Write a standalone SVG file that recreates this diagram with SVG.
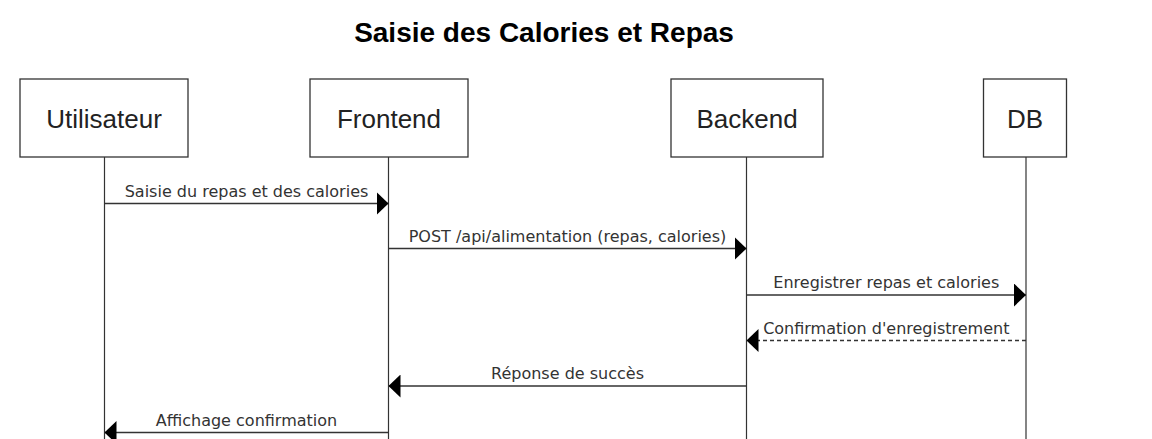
<svg xmlns="http://www.w3.org/2000/svg" width="1152" height="439" viewBox="0 0 1152 439">
  <defs>
    <marker id="arrow" viewBox="0 0 12 23" refX="12" refY="11.5" markerWidth="12" markerHeight="23" markerUnits="userSpaceOnUse" orient="auto">
      <path d="M0,0 L12,11.5 L0,23 Z" fill="#000"/>
    </marker>
    <style>
      .actor rect { fill: #fff; stroke: #333; stroke-width: 1.3; }
      .actor text { font-family: "Liberation Sans", Arial, sans-serif; font-size: 26px; fill: #222; text-anchor: middle; }
      .life { stroke: #333; stroke-width: 1.2; }
      .msg { stroke: #333; stroke-width: 1.5; fill: none; marker-end: url(#arrow); }
      .dashed { stroke-dasharray: 4,3; }
      .label { font-family: "DejaVu Sans", Verdana, sans-serif; font-size: 16px; fill: #333; text-anchor: middle; }
      .title { font-family: "Liberation Sans", Arial, sans-serif; font-size: 28px; font-weight: bold; fill: #000; text-anchor: middle; }
    </style>
  </defs>
  <rect width="1152" height="439" fill="#fff"/>
  <text class="title" x="544" y="42">Saisie des Calories et Repas</text>

  <g id="utilisateur" class="actor">
    <line class="life" x1="104.5" y1="157" x2="104.5" y2="439"/>
    <rect x="20" y="79" width="168" height="78"/>
    <text x="104" y="128">Utilisateur</text>
  </g>
  <g id="frontend" class="actor">
    <line class="life" x1="388.5" y1="157" x2="388.5" y2="439"/>
    <rect x="310" y="79" width="158" height="78"/>
    <text x="389" y="128">Frontend</text>
  </g>
  <g id="backend" class="actor">
    <line class="life" x1="746.5" y1="157" x2="746.5" y2="439"/>
    <rect x="671" y="79" width="152" height="78"/>
    <text x="747" y="128">Backend</text>
  </g>
  <g id="db" class="actor">
    <line class="life" x1="1026" y1="157" x2="1026" y2="439"/>
    <rect x="983.5" y="79" width="83" height="78"/>
    <text x="1025" y="128">DB</text>
  </g>

  <g id="connectors">
    <line class="msg" x1="104.5" y1="203.5" x2="388.5" y2="203.5"/>
    <text class="label" x="246.5" y="196.5">Saisie du repas et des calories</text>

    <line class="msg" x1="388.5" y1="248.5" x2="746.5" y2="248.5"/>
    <text class="label" x="567.5" y="241.5">POST /api/alimentation (repas, calories)</text>

    <line class="msg" x1="746.5" y1="295" x2="1026" y2="295"/>
    <text class="label" x="886.3" y="288">Enregistrer repas et calories</text>

    <line class="msg dashed" x1="1026" y1="340.5" x2="746.5" y2="340.5"/>
    <text class="label" x="886.3" y="334">Confirmation d'enregistrement</text>

    <line class="msg" x1="746.5" y1="386" x2="388.5" y2="386"/>
    <text class="label" x="567.5" y="379">Réponse de succès</text>

    <line class="msg" x1="388.5" y1="432.5" x2="104.5" y2="432.5"/>
    <text class="label" x="246.5" y="425.5">Affichage confirmation</text>
  </g>
</svg>
